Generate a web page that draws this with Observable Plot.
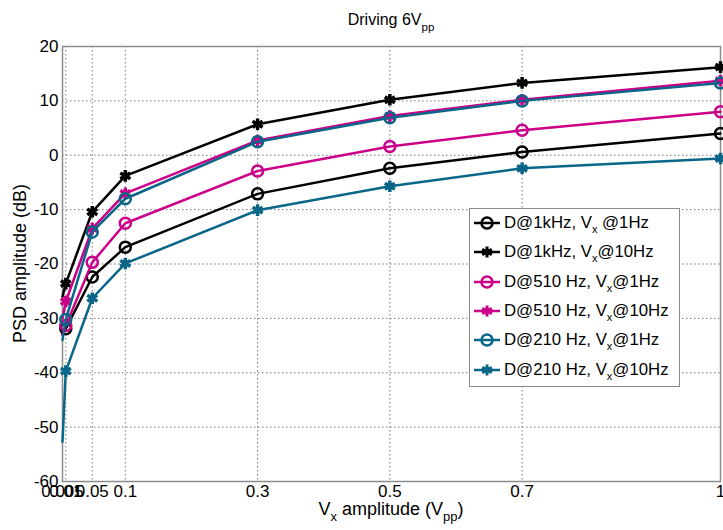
<!DOCTYPE html>
<html>
<head>
<meta charset="utf-8">
<script src="https://cdn.jsdelivr.net/npm/d3@7"></script>
<script src="https://cdn.jsdelivr.net/npm/@observablehq/plot@0.6"></script>
<style>
  html, body { margin: 0; padding: 0; background: #fff; }
  #wrap { position: relative; width: 723px; height: 530px; }
  #legend { position: absolute; left: 469px; top: 208px; width: 211px; height: 179px;
    border: 1.5px solid #8a8a8a; background: #fff; box-sizing: border-box;
    font-family: "Liberation Sans", Arial, sans-serif; font-size: 16.8px; color: #000; }
  .row { position: absolute; left: 4px; height: 20px; display: flex; align-items: center; white-space: pre; }
  .row svg { margin-right: 3px; }
  sub { font-size: 11px; vertical-align: -5px; line-height: 0; }
</style>
</head>
<body>
<div id="wrap"></div>
<script>
const xValues = [0.005, 0.01, 0.05, 0.1, 0.3, 0.5, 0.7, 1];
const xTicks = [0.005, 0.01, 0.05, 0.1, 0.3, 0.5, 0.7, 1];
const yTicks = [20, 10, 0, -10, -20, -30, -40, -50, -60];
const seriesNames = ["D@1kHz, Vx @1Hz", "D@1kHz, Vx@10Hz", "D@510 Hz, Vx@1Hz", "D@510 Hz, Vx@10Hz", "D@210 Hz, Vx@1Hz", "D@210 Hz, Vx@10Hz"];
const seriesColors = ["#000000", "#000000", "#cc0088", "#cc0088", "#0a6688", "#0a6688"];
const seriesMarkers = ["circle", "star", "circle", "star", "circle", "star"];
const d1k_1Hz   = [-33.0, -31.9, -22.4, -16.9, -7.1, -2.4, 0.6, 4.0];
const d1k_10Hz  = [-26.0, -23.6, -10.4, -3.8, 5.7, 10.2, 13.3, 16.2];
const d510_1Hz  = [-33.0, -31.3, -19.7, -12.5, -2.9, 1.6, 4.6, 8.0];
const d510_10Hz = [-30.0, -26.9, -13.5, -7.0, 2.7, 7.2, 10.2, 13.7];
const d210_1Hz  = [-34.0, -30.2, -14.1, -8.0, 2.5, 6.9, 10.0, 13.3];
const d210_10Hz = [-52.7, -39.7, -26.3, -19.9, -10.1, -5.7, -2.4, -0.6];
const seriesValues = [d1k_1Hz, d1k_10Hz, d510_1Hz, d510_10Hz, d210_1Hz, d210_10Hz];

const rows = [];
seriesValues.forEach((vals, si) => {
  vals.forEach((v, i) => rows.push({series: si, x: xValues[i], y: v, marker: xValues[i] >= 0.01}));
});

const W = 723, H = 530;
const font = '"Liberation Sans", Arial, sans-serif';

const marks = [
  Plot.gridX(xTicks, {stroke: "#777", strokeOpacity: 1, strokeDasharray: "1.5,2.5", strokeWidth: 1}),
  Plot.gridY(yTicks, {stroke: "#777", strokeOpacity: 1, strokeDasharray: "1.5,2.5", strokeWidth: 1}),
  Plot.frame({stroke: "#8c8c8c", strokeWidth: 1.5}),
  Plot.axisX(xTicks, {tickSize: 0, tickPadding: 3, fontSize: 17, tickFormat: d => String(d), label: null}),
  Plot.axisY(yTicks, {tickSize: 0, tickPadding: 4, fontSize: 17, tickFormat: d => String(d), label: null})
];
seriesValues.forEach((vals, si) => {
  const data = rows.filter(r => r.series === si);
  marks.push(Plot.line(data, {x: "x", y: "y", stroke: seriesColors[si], strokeWidth: 2.5}));
  const md = data.filter(r => r.marker);
  if (seriesMarkers[si] === "circle") {
    marks.push(Plot.dot(md, {x: "x", y: "y", r: 5.5, stroke: seriesColors[si], strokeWidth: 2.5, fill: "none"}));
  } else {
    marks.push(Plot.dot(md, {x: "x", y: "y", r: 5.5, symbol: "asterisk", stroke: seriesColors[si], strokeWidth: 3.5}));
    marks.push(Plot.dot(md, {x: "x", y: "y", r: 3, fill: seriesColors[si], stroke: "none"}));
  }
});

const chart = Plot.plot({
  width: W, height: H,
  marginLeft: 62, marginRight: 3, marginTop: 46, marginBottom: 49,
  style: {fontFamily: font, fontSize: "17px", color: "#000", background: "#fff"},
  x: {type: "linear", domain: [0.005, 1]},
  y: {domain: [-60, 20]},
  marks
});

const svg = d3.select(chart);
const xs = chart.scale("x"), ys = chart.scale("y");
const cx = (xs.range[0] + xs.range[1]) / 2;
const cy = (ys.range[0] + ys.range[1]) / 2;

function addText(parent, x, y, parts, opts = {}) {
  const size = opts.size || 18;
  const t = parent.append("text").attr("x", x).attr("y", y)
    .attr("text-anchor", "middle").attr("font-family", font)
    .attr("font-size", size).attr("fill", "#000");
  if (opts.rotate) t.attr("transform", `rotate(-90 ${x} ${y})`);
  parts.forEach(p => {
    const s = t.append("tspan").text(p.t);
    if (p.sub) s.attr("font-size", size * 0.72).attr("dy", 6);
    else if (p.after) s.attr("dy", -6);
  });
  return t;
}
addText(svg, cx, 25, [{t: "Driving 6V"}, {t: "pp", sub: true}], {size: 16});
addText(svg, cx, 515, [{t: "V"}, {t: "x", sub: true}, {t: " amplitude (V", after: true}, {t: "pp", sub: true}, {t: ")", after: true}], {size: 18});
addText(svg, 26, cy, [{t: "PSD amplitude (dB)"}], {size: 18, rotate: true});

document.getElementById("wrap").appendChild(chart);

// legend
const legend = document.createElement("div");
legend.id = "legend";
const labelHTML = [
  "D@1kHz, V<sub>x</sub> @1Hz", "D@1kHz, V<sub>x</sub>@10Hz", "D@510 Hz, V<sub>x</sub>@1Hz",
  "D@510 Hz, V<sub>x</sub>@10Hz", "D@210 Hz, V<sub>x</sub>@1Hz", "D@210 Hz, V<sub>x</sub>@10Hz"
];
seriesNames.forEach((name, i) => {
  const row = document.createElement("div");
  row.className = "row";
  row.style.top = (4 + i * 29.3) + "px";
  const c = seriesColors[i];
  const sym = seriesMarkers[i] === "circle"
    ? `<circle cx="13" cy="10" r="5.5" fill="none" stroke="${c}" stroke-width="2.5"/>`
    : `<g stroke="${c}" stroke-width="3"><line x1="13" y1="4.5" x2="13" y2="15.5"/><line x1="8.2" y1="7.2" x2="17.8" y2="12.8"/><line x1="8.2" y1="12.8" x2="17.8" y2="7.2"/></g><circle cx="13" cy="10" r="3" fill="${c}"/>`;
  row.innerHTML = `<svg width="27" height="20"><line x1="0" y1="10" x2="26" y2="10" stroke="${c}" stroke-width="2.5"/>${sym}</svg><span>${labelHTML[i]}</span>`;
  legend.appendChild(row);
});
document.getElementById("wrap").appendChild(legend);
</script>
</body>
</html>
